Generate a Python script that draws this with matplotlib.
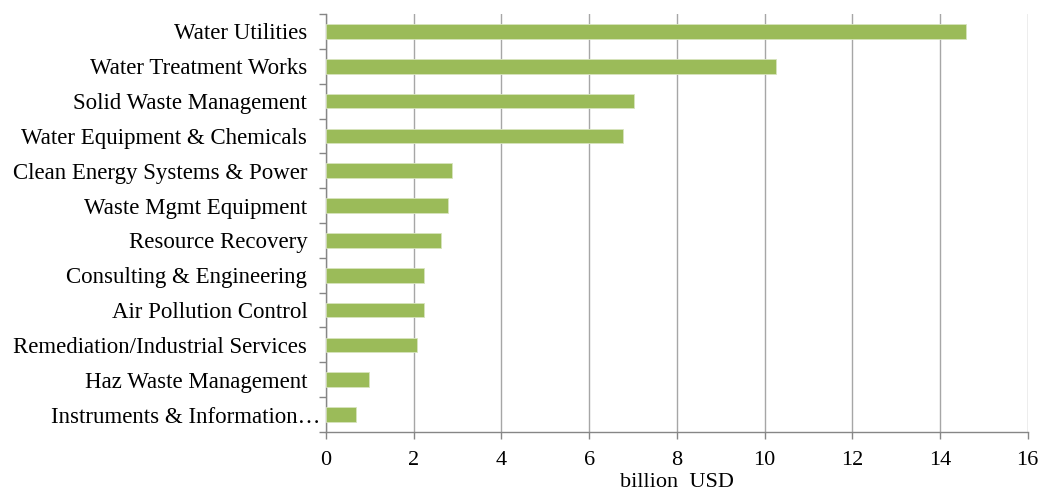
import matplotlib
matplotlib.use("Agg")
import matplotlib.pyplot as plt
from matplotlib.ticker import FixedLocator
from matplotlib.transforms import ScaledTranslation

categories = ["Water Utilities", "Water Treatment Works", "Solid Waste Management",
              "Water Equipment & Chemicals", "Clean Energy Systems & Power",
              "Waste Mgmt Equipment", "Resource Recovery", "Consulting & Engineering",
              "Air Pollution Control", "Remediation/Industrial Services",
              "Haz Waste Management", "Instruments & Information\u2026"]
values = [14.59, 10.25, 7.02, 6.77, 2.87, 2.78, 2.62, 2.23, 2.23, 2.07, 0.98, 0.68]
xticks = [0, 2, 4, 6, 8, 10, 12, 14, 16]

plt.rcParams['font.family'] = ['Liberation Serif', 'DejaVu Serif']

fig = plt.figure(figsize=(10.4, 4.95), dpi=100)
ax = fig.add_axes([0.3135, 0.1273, 0.9882 - 0.3135, 0.9717 - 0.1273])

n = len(categories)
ypos = list(range(n))
ax.barh(ypos, values, height=0.42, color='#9bbb59', edgecolor='#d7e4bd', linewidth=0.6, zorder=3)
ax.set_ylim(n - 0.5, -0.5)
ax.set_xlim(0, 16)
ax.set_yticks(ypos)
ax.set_yticklabels(categories, fontsize=16.5)
ax.yaxis.set_minor_locator(FixedLocator([i - 0.5 for i in range(n + 1)]))
ax.tick_params(axis='y', which='major', length=0, pad=13.5)
ax.tick_params(axis='y', which='minor', length=5, color='#868686', width=1)
ax.set_xticks(xticks)
ax.set_xticklabels([str(t) for t in xticks], fontsize=16)
ax.tick_params(axis='x', length=5, color='#868686', width=1, pad=9)
ax.grid(axis='x', color='#a6a6a6', linewidth=1, zorder=0)
for s in ['top', 'right']:
    ax.spines[s].set_visible(False)
for s in ['left', 'bottom']:
    ax.spines[s].set_color('#868686')
    ax.spines[s].set_linewidth(1)
ax.set_xlabel("billion  USD", fontsize=16, labelpad=2)

# last label in the reference runs up to the axis line
last = ax.get_yticklabels()[-1]
last.set_transform(last.get_transform() + ScaledTranslation(0.13, 0, fig.dpi_scale_trans))

fig.savefig("out.png", dpi=100)
